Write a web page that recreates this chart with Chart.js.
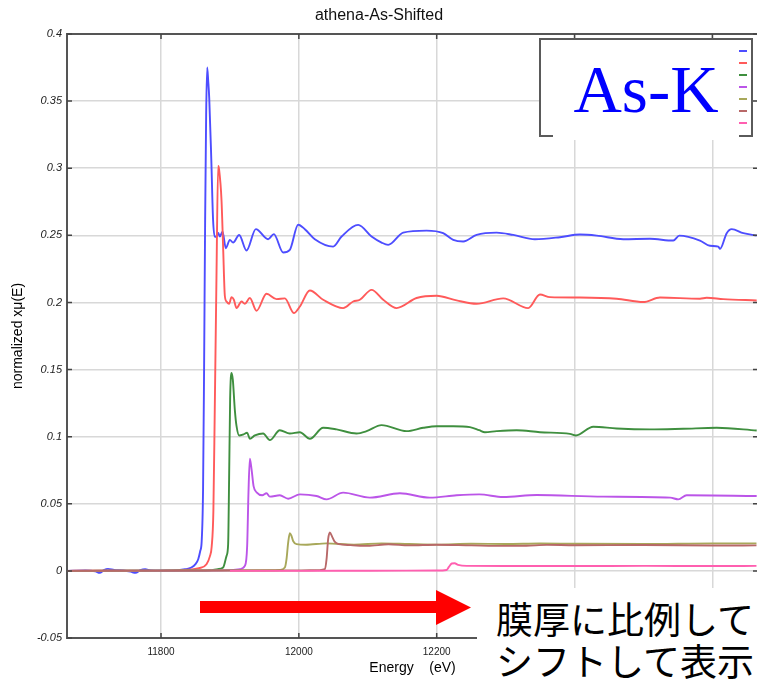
<!DOCTYPE html>
<html><head><meta charset="utf-8">
<script src="https://cdn.jsdelivr.net/npm/chart.js@4/dist/chart.umd.min.js"></script>
<style>
html,body{margin:0;padding:0;background:#fff;overflow:hidden;width:757px;height:683px;}
#wrap{position:relative;width:760px;height:683px;}
#c{display:block}
.box{position:absolute;background:#fff;}
</style></head><body>
<div id="wrap"><canvas id="c" width="760" height="683"></canvas>
<div class="box" style="left:553px;top:41px;width:186px;height:99px;"></div>
<div style="position:absolute;left:553px;width:186px;top:56px;text-align:center;font-family:'Liberation Serif';font-size:67px;line-height:66px;color:#0000ff;white-space:nowrap">As-K</div>
<svg style="position:absolute;left:0;top:0" width="757" height="683"><polygon points="200,601 436,601 436,590 471,607.5 436,625 436,613 200,613" fill="#ff0000"/></svg>
<div class="box" style="left:477px;top:588px;width:283px;height:95px;"></div>
<div style="position:absolute;left:496px;top:597px;font-family:'Noto Sans CJK JP';font-size:37px;line-height:42px;color:#000;white-space:nowrap">膜厚に比例して<br>シフトして表示</div>
</div>
<script>
const titleText = 'athena-As-Shifted';
const xTitle = 'Energy    (eV)';
const yTitle = 'normalized xμ(E)';
const xMin = 11663.6, xMax = 12666.2;
const yMin = -0.05, yMax = 0.4;
const xTicks = [11800, 12000, 12200, 12400, 12600];
const xTickLabels = ['11800', '12000', '12200', '12400', '12600'];
const yTicks = [-0.05, 0, 0.05, 0.1, 0.15, 0.2, 0.25, 0.3, 0.35, 0.4];
const yTickLabels = ['-0.05', '0', '0.05', '0.1', '0.15', '0.2', '0.25', '0.3', '0.35', '0.4'];
const seriesNames = ['s1', 's2', 's3', 's4', 's5', 's6', 's7'];
const colors = ['#4d4dff', '#ff5a5a', '#3f8f3f', '#bb55e8', '#a8a85a', '#b86868', '#ff5fb0'];

const blueE = [11664,11690,11705,11711,11717,11723,11732,11745,11756,11763,11770,11777,11785,11800,11820,11835,11844,11850,11854,11857,11859,11861,11862.5,11864,11865.5,11867,11868.5,11870,11873,11875.5,11878,11880.5,11883,11885.3,11889.3,11894,11899.9,11904.6,11913.4,11924.1,11937.6,11955.4,11963.7,11977.2,11986.9,11999,12008.7,12023.2,12049.8,12062,12086.1,12105.5,12120,12129.6,12151.4,12185.3,12209.4,12224,12238.5,12257.9,12286.9,12311,12342.5,12378.8,12407.8,12432.1,12470.7,12509.4,12543.3,12552,12582,12596.5,12608.6,12611.1,12620.8,12628,12644.9,12664.3];
const blueMu = [0,0.0003,-0.0004,-0.0015,0.0005,0.0015,0.0007,0.0003,-0.0006,-0.0015,0.0005,0.0012,0.0004,0.0002,0.0003,0.0012,0.0025,0.005,0.0087,0.015,0.022,0.06,0.15,0.26,0.34,0.375,0.365,0.352,0.306,0.262,0.249,0.249,0.2518,0.2491,0.2528,0.2404,0.2466,0.2446,0.2503,0.2387,0.2546,0.2471,0.2509,0.2372,0.2392,0.2579,0.2546,0.2471,0.2416,0.2491,0.2578,0.2491,0.2446,0.2429,0.252,0.2535,0.2516,0.2466,0.2454,0.2503,0.252,0.2503,0.2471,0.2486,0.2506,0.2498,0.2471,0.2474,0.2461,0.2498,0.2461,0.2422,0.2416,0.2399,0.2516,0.2546,0.2516,0.2498];

const redE = [11664,11700,11760,11800,11840,11855,11866,11871,11873.5,11876,11878,11880.5,11882.9,11884.3,11887.8,11890.1,11892.6,11895.1,11898.8,11902.3,11905.7,11909.6,11916.8,11921.6,11928.9,11938.6,11953.1,11967.6,11979.7,11992.7,12001.5,12016,12035.3,12064.3,12078.8,12088.5,12105.5,12122.4,12141.8,12170.8,12199.9,12228.9,12257.9,12296.5,12332.8,12349.8,12364.3,12407.8,12461.1,12499.7,12524,12582,12591.7,12615.8,12664.3];
const redMu = [0,0.0002,0.0001,0.0002,0.0008,0.002,0.005,0.011,0.018,0.045,0.12,0.22,0.3016,0.299,0.276,0.2416,0.205,0.2007,0.199,0.204,0.202,0.1958,0.2007,0.199,0.2033,0.1938,0.2065,0.2025,0.203,0.1921,0.197,0.2089,0.202,0.1958,0.2007,0.202,0.2094,0.202,0.1958,0.2033,0.205,0.2015,0.199,0.203,0.1958,0.2059,0.204,0.2037,0.2028,0.2003,0.2037,0.2028,0.2035,0.2025,0.2015];

const greenE = [11664,11760,11850,11870.8,11882.4,11890.1,11895.1,11897.4,11898.8,11900.3,11902.3,11904.2,11907.1,11909.6,11913.4,11919.2,11925,11928.9,11936.2,11948.2,11957.9,11972.4,11986.9,12001.5,12016,12035.3,12054.7,12083.7,12098.3,12120,12156.3,12180.4,12199.9,12224,12248.2,12261.7,12270,12286.9,12316,12349.8,12393.3,12402,12427.2,12461.1,12509.4,12557.8,12606.3,12664.3];
const greenMu = [0,0.0001,0.0003,0.0005,0.0013,0.0025,0.0112,0.0198,0.068,0.128,0.1475,0.1425,0.12,0.1078,0.1009,0.1016,0.1029,0.0984,0.1009,0.1024,0.0974,0.1048,0.1024,0.1033,0.0984,0.1066,0.1054,0.1024,0.1041,0.1086,0.1041,0.1066,0.1078,0.1078,0.1071,0.1048,0.1033,0.1041,0.1048,0.1033,0.1021,0.1009,0.1074,0.1061,0.1054,0.1059,0.1066,0.1046];

const purpleE = [11664,11800,11900,11914.4,11921.6,11925,11926.9,11928.9,11931.4,11934.3,11939.1,11946.9,11953.1,11957.9,11972.4,11984.5,12001.5,12025.7,12040.2,12064.3,12103,12146.6,12190.1,12228.9,12261.7,12296.5,12345,12441.7,12539,12550.5,12562.7,12664.3];
const purpleMu = [0,0.0001,0.0005,0.0013,0.0037,0.0186,0.0583,0.0836,0.0756,0.0632,0.0583,0.0563,0.0578,0.0553,0.0563,0.0538,0.057,0.0558,0.0533,0.0583,0.0546,0.0578,0.0546,0.0563,0.057,0.055,0.0565,0.0553,0.0546,0.0533,0.0563,0.0558];

const oliveE = [11664,11800,11900,11960,11972.4,11979.7,11982.1,11984.5,11986.9,11989,11991.7,11996.7,12010,12040,12080,12120,12160,12200,12250,12300,12350,12400,12500,12600,12664];
const oliveMu = [0,0.0002,0.0004,0.0005,0.0007,0.0025,0.0087,0.0211,0.028,0.0265,0.0223,0.0199,0.0195,0.0205,0.0196,0.0205,0.02,0.0196,0.0202,0.02,0.0204,0.0202,0.02,0.0205,0.0205];

const brownE = [11664,11800,11900,12000,12030,12037.7,12040.2,12042.5,12045,12048.9,12052.3,12058,12075,12100,12130,12160,12200,12250,12300,12330,12360,12400,12500,12600,12664];
const brownMu = [0,0.0002,0.0003,0.0004,0.0006,0.0013,0.0087,0.0236,0.0286,0.0248,0.0216,0.0199,0.0192,0.0186,0.0198,0.019,0.0195,0.019,0.0186,0.0187,0.0194,0.0191,0.0193,0.0189,0.019];

const pinkE = [11900,12000,12100,12200,12214.4,12217.7,12222,12226,12231,12243.4,12300,12400,12500,12600,12664];
const pinkMu = [0,0,0.0001,0.0003,0.0007,0.003,0.0055,0.0057,0.0045,0.0037,0.0036,0.0036,0.0037,0.0036,0.0037];

const seriesE = [blueE, redE, greenE, purpleE, oliveE, brownE, pinkE];
const seriesMu = [blueMu, redMu, greenMu, purpleMu, oliveMu, brownMu, pinkMu];

const framePlugin = {
  id: 'frame',
  afterDraw(chart) {
    const {ctx, chartArea: a, scales: {x, y}} = chart;
    ctx.save();
    ctx.strokeStyle = '#555';
    ctx.lineWidth = 2;
    ctx.beginPath();
    ctx.moveTo(a.left, a.top); ctx.lineTo(a.right, a.top); ctx.lineTo(a.right, a.bottom);
    ctx.stroke();
    ctx.strokeStyle = '#444';
    ctx.lineWidth = 1.5;
    ctx.beginPath();
    y.ticks.forEach(t => {
      const py = y.getPixelForValue(t.value);
      ctx.moveTo(a.left, py); ctx.lineTo(a.left + 5, py);
      ctx.moveTo(a.right - 5, py); ctx.lineTo(a.right, py);
    });
    x.ticks.forEach(t => {
      const px = x.getPixelForValue(t.value);
      ctx.moveTo(px, a.top); ctx.lineTo(px, a.top + 5);
      ctx.moveTo(px, a.bottom - 5); ctx.lineTo(px, a.bottom);
    });
    ctx.stroke();
    // legend box
    const L = 540, T = 39, R = 752, B = 136;
    ctx.fillStyle = '#fff';
    ctx.fillRect(L, T, R - L, B - T);
    ctx.strokeStyle = '#5a5a5a';
    ctx.lineWidth = 2;
    ctx.strokeRect(L, T, R - L, B - T);
    ctx.lineWidth = 2;
    chart.data.datasets.forEach((ds, i) => {
      ctx.strokeStyle = ds.borderColor;
      ctx.beginPath();
      ctx.moveTo(739, 51 + 12 * i); ctx.lineTo(747, 51 + 12 * i);
      ctx.stroke();
    });
    ctx.restore();
  }
};

new Chart(document.getElementById('c').getContext('2d'), {
  type: 'line',
  data: {
    datasets: seriesE.map((E, i) => ({
      label: seriesNames[i],
      data: E.map((e, j) => ({x: e, y: seriesMu[i][j]})),
      borderColor: colors[i],
      borderWidth: 1.9,
      pointRadius: 0,
      fill: false,
      cubicInterpolationMode: 'monotone',
      order: 6 - i
    }))
  },
  options: {
    responsive: false,
    animation: false,
    layout: {padding: {left: 0, right: 2, top: 0, bottom: 0}},
    plugins: {
      legend: {display: false},
      tooltip: {enabled: false},
      title: {display: true, text: titleText, color: '#111',
        font: {family: 'Liberation Sans', size: 16, weight: 'normal'},
        padding: {top: 5.5, bottom: 9.3}}
    },
    scales: {
      x: {
        type: 'linear', min: xMin, max: xMax,
        afterBuildTicks: s => { s.ticks = xTicks.map(v => ({value: v})); },
        afterFit: s => { s.height = 45; },
        ticks: {callback: v => xTickLabels[xTicks.indexOf(v)], font: {family: 'Liberation Sans', size: 10}, color: '#222', padding: 8, maxRotation: 0, autoSkip: false},
        grid: {color: '#d8d8d8', lineWidth: 1.5, drawTicks: false},
        border: {display: true, color: '#555', width: 2},
        title: {display: true, text: xTitle, color: '#000', font: {family: 'Liberation Sans', size: 14}, padding: {top: 0, bottom: 6.2}}
      },
      y: {
        type: 'linear', min: yMin, max: yMax,
        afterBuildTicks: s => { s.ticks = yTicks.map(v => ({value: v})); },
        afterFit: s => { s.width = 67; },
        ticks: {callback: v => yTickLabels[yTicks.indexOf(v)], font: {family: 'Liberation Sans', size: 11, style: 'italic'}, color: '#222', padding: 5},
        grid: {color: '#d8d8d8', lineWidth: 1.5, drawTicks: false},
        border: {display: true, color: '#555', width: 2},
        title: {display: true, text: yTitle, color: '#000', font: {family: 'Liberation Sans', size: 14}, padding: {top: 9.6, bottom: 0}}
      }
    }
  },
  plugins: [framePlugin]
});
</script>
</body></html>
